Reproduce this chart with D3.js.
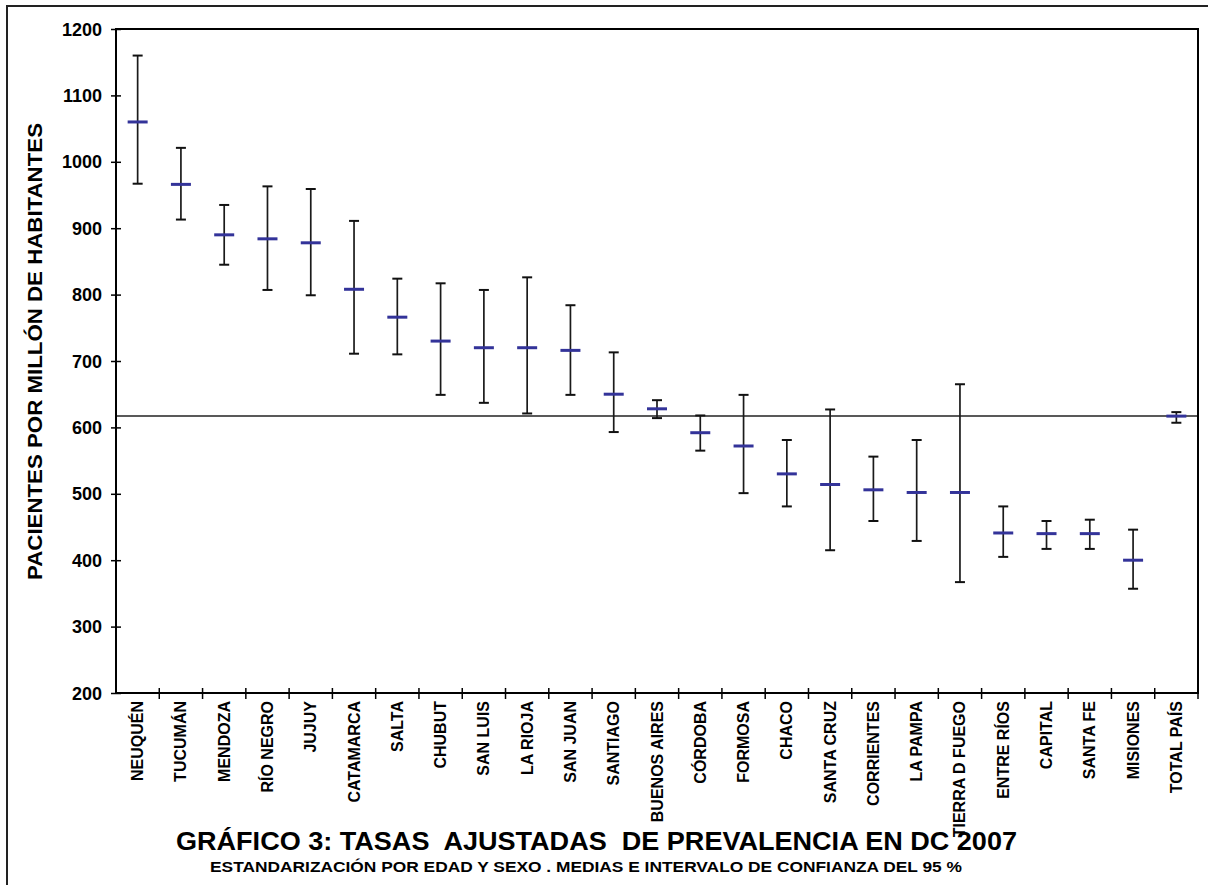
<!DOCTYPE html>
<html>
<head>
<meta charset="utf-8">
<script src="https://cdn.jsdelivr.net/npm/d3@7"></script>
<style>
  html, body { margin: 0; padding: 0; background: #fff; }
  svg { display: block; font-family: "Liberation Sans", Arial, Helvetica, sans-serif; }
  text { white-space: pre; }
</style>
</head>
<body>
<svg id="chart" width="1208" height="885"></svg>
<script>
const categories = ["NEUQUÉN","TUCUMÁN","MENDOZA","RÍO NEGRO","JUJUY","CATAMARCA","SALTA","CHUBUT","SAN LUIS","LA RIOJA","SAN JUAN","SANTIAGO","BUENOS AIRES","CÓRDOBA","FORMOSA","CHACO","SANTA CRUZ","CORRIENTES","LA PAMPA","TIERRA D FUEGO","ENTRE RÍOS","CAPITAL","SANTA FE","MISIONES","TOTAL PAÍS"];
const means = [1060, 966, 890, 884, 878, 808, 766, 730, 720, 720, 716, 650, 628, 592, 572, 530, 514, 506, 502, 502, 441, 440, 440, 400, 617];
const upper = [1160, 1021, 935, 963, 959, 911, 824, 817, 807, 826, 784, 713, 641, 618, 649, 581, 627, 556, 581, 665, 481, 459, 461, 446, 623];
const lower = [967, 913, 845, 807, 799, 711, 710, 649, 637, 621, 649, 593, 614, 565, 501, 481, 415, 459, 429, 367, 405, 417, 417, 357, 607];
const referenceValue = 617;
const yTicks = [200, 300, 400, 500, 600, 700, 800, 900, 1000, 1100, 1200];
const yTitle = "PACIENTES POR MILLÓN DE HABITANTES";
const title = "GRÁFICO 3: TASAS  AJUSTADAS  DE PREVALENCIA EN DC 2007";
const subtitle = "ESTANDARIZACIÓN POR EDAD Y SEXO . MEDIAS E INTERVALO DE CONFIANZA DEL 95 %";

const data = categories.map((c, i) => ({cat: c, mean: means[i], hi: upper[i], lo: lower[i]}));

const svg = d3.select("#chart");
const L = 116, R = 1198, T = 29, B = 693;

// outer frame
svg.append("path")
  .attr("d", "M7,890 L7,6 L1215,6")
  .attr("fill", "none").attr("stroke", "#222").attr("stroke-width", 2);

const x = d3.scaleBand().domain(categories).range([L, R]).padding(0);
const y = d3.scaleLinear().domain([200, 1200]).range([B, T]);

// reference line
svg.append("line")
  .attr("x1", L).attr("x2", R)
  .attr("y1", y(referenceValue)).attr("y2", y(referenceValue))
  .attr("stroke", "#222").attr("stroke-width", 1.5);

// plot border
svg.append("rect")
  .attr("x", L).attr("y", T).attr("width", R - L).attr("height", B - T)
  .attr("fill", "none").attr("stroke", "#000").attr("stroke-width", 2);

// y axis
const yAxis = svg.append("g").attr("transform", `translate(${L},0)`)
  .call(d3.axisLeft(y).tickValues(yTicks).tickSize(5).tickFormat(d3.format("d")));
yAxis.select(".domain").remove();
yAxis.selectAll(".tick line").attr("x1", 5).attr("x2", -5).attr("stroke", "#000").attr("stroke-width", 1.5);
yAxis.selectAll(".tick text")
  .attr("x", -14).attr("dy", null).attr("y", 6)
  .attr("font-size", 18).attr("font-weight", "bold").attr("fill", "#000")
  .attr("font-family", "Liberation Sans, Arial, sans-serif");

// x axis ticks (category boundaries, crossing)
const bounds = categories.map(c => x(c)).concat([R]);
svg.append("g").selectAll("line").data(bounds.slice(1)).join("line")
  .attr("x1", d => d).attr("x2", d => d)
  .attr("y1", B - 5).attr("y2", B + 6)
  .attr("stroke", "#000").attr("stroke-width", 1.5);

// x labels
svg.append("g").selectAll("text").data(categories).join("text")
  .attr("transform", d => `translate(${x(d) + x.bandwidth() / 2 + 5.5},701) rotate(-90)`)
  .attr("text-anchor", "end")
  .attr("font-size", 16).attr("font-weight", "bold").attr("fill", "#000")
  .text(d => d);

// error bars
const g = svg.append("g");
const cx = d => x(d.cat) + x.bandwidth() / 2;
g.selectAll(".stem").data(data).join("line").attr("class", "stem")
  .attr("x1", cx).attr("x2", cx)
  .attr("y1", d => y(d.hi)).attr("y2", d => y(d.lo))
  .attr("stroke", "#1a1a1a").attr("stroke-width", 1.7);
g.selectAll(".capHi").data(data).join("line").attr("class", "capHi")
  .attr("x1", d => cx(d) - 5).attr("x2", d => cx(d) + 5)
  .attr("y1", d => y(d.hi)).attr("y2", d => y(d.hi))
  .attr("stroke", "#111").attr("stroke-width", 2);
g.selectAll(".capLo").data(data).join("line").attr("class", "capLo")
  .attr("x1", d => cx(d) - 5).attr("x2", d => cx(d) + 5)
  .attr("y1", d => y(d.lo)).attr("y2", d => y(d.lo))
  .attr("stroke", "#111").attr("stroke-width", 2);
g.selectAll(".mean").data(data).join("line").attr("class", "mean")
  .attr("x1", d => cx(d) - 10).attr("x2", d => cx(d) + 10)
  .attr("y1", d => y(d.mean)).attr("y2", d => y(d.mean))
  .attr("stroke", "#333399").attr("stroke-width", 3);

// y title
svg.append("text")
  .attr("transform", `translate(42,${(123 + 580) / 2}) rotate(-90)`)
  .attr("text-anchor", "middle")
  .attr("font-size", 21).attr("font-weight", "bold").attr("fill", "#000")
  .attr("textLength", 457).attr("lengthAdjust", "spacingAndGlyphs")
  .text(yTitle);

// titles
svg.append("text")
  .attr("x", 176).attr("y", 850)
  .attr("font-size", 25).attr("font-weight", "bold").attr("fill", "#000")
  .attr("textLength", 841).attr("lengthAdjust", "spacingAndGlyphs")
  .text(title);
svg.append("text")
  .attr("x", 210).attr("y", 872)
  .attr("font-size", 14).attr("font-weight", "bold").attr("fill", "#000")
  .attr("textLength", 752).attr("lengthAdjust", "spacingAndGlyphs")
  .text(subtitle);
</script>
</body>
</html>
